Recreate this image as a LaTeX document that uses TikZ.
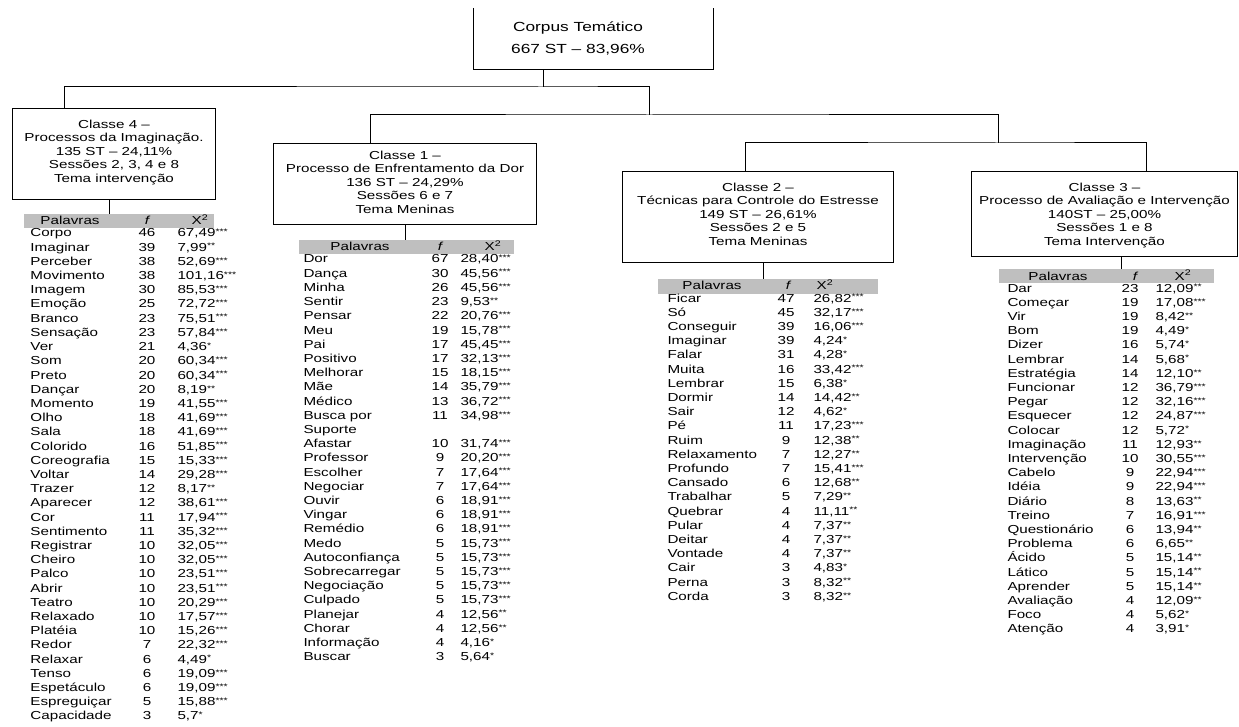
\documentclass[tikz,border=0pt]{standalone}
\usepackage{fontspec}
\setmainfont{Liberation Sans}[FakeStretch=1.31]
\usetikzlibrary{positioning}

\newcommand{\sigstars}[1]{\raisebox{2.2pt}{\fontsize{8}{8}\selectfont #1}}

\begin{document}
\begin{tikzpicture}[x=1pt,y=-1pt,line width=1pt,
    every node/.style={inner sep=0pt,font=\fontsize{11.6}{13.5}\selectfont},
    classbox/.style={draw,anchor=north west},
    boxtext/.style={align=center},
    headbar/.style={fill=black!25,anchor=north west,minimum height=14pt},
    cell/.style={anchor=base west},
    num/.style={anchor=base}]

        \useasboundingbox (0,0) rectangle (1239,727);

	\def \dy {14.2}

        % draw the corpus box (open at the top)
        \node[minimum width=239pt,minimum height=61pt,anchor=north west] (corpus) at (473,8) {};
        \draw (corpus.north west) -- (corpus.south west) -- (corpus.south east) -- (corpus.north east);
        \node[boxtext,anchor=north,font=\fontsize{13.2}{22}\selectfont] (corpust) at (578,21.5) {Corpus Temático\\667 ST – 83,96\%};

        % draw the class boxes
        \node[classbox,minimum width=203pt,minimum height=91pt] (c4) at (12,108) {};
        \node[classbox,minimum width=263pt,minimum height=81pt] (c1) at (273,143) {};
        \node[classbox,minimum width=271pt,minimum height=91pt] (c2) at (622,171) {};
        \node[classbox,minimum width=266pt,minimum height=85pt] (c3) at (971,171) {};

        \node[boxtext,below=11.5pt of c4.north] (c4t) {Classe 4 –\\Processos da Imaginação.\\135 ST – 24,11\%\\Sessões 2, 3, 4 e 8\\Tema intervenção};
        \node[boxtext,below=7.5pt of c1.north] (c1t) {Classe 1 –\\Processo de Enfrentamento da Dor\\136 ST – 24,29\%\\Sessões 6 e 7\\Tema Meninas};
        \node[boxtext,below=11.5pt of c2.north] (c2t) {Classe 2 –\\Técnicas para Controle do Estresse\\149 ST – 26,61\%\\Sessões 2 e 5\\Tema Meninas};
        \node[boxtext,below=11.5pt of c3.north] (c3t) {Classe 3 –\\Processo de Avaliação e Intervenção\\140ST – 25,00\%\\Sessões 1 e 8\\Tema Intervenção};

        % draw the tree
        \coordinate (j0) at (543,87);
        \coordinate (j1) at (649,115);
        \coordinate (j2) at (998,143);
        \coordinate (a4) at (64,108);
        \coordinate (a1) at (370,143);
        \coordinate (a2) at (745,171);
        \coordinate (a3) at (1146,171);

        \draw (corpus.south -| j0) -- (j0);
        \draw (a4) |- (j0) -| (j1);
        \draw (a1) |- (j1) -| (j2);
        \draw (a2) |- (j2) -| (a3);

        % draw the table heads
        \node[headbar,minimum width=190pt] (h4) at (23,214) {};
        \node[headbar,minimum width=215pt] (h1) at (298,240) {};
        \node[headbar,minimum width=220pt] (h2) at (657,279) {};
        \node[headbar,minimum width=215pt] (h3) at (998,269) {};

        \coordinate (k4) at (109,214);
        \coordinate (k1) at (405,240);
        \coordinate (k2) at (763,279);
        \coordinate (k3) at (1121,269);
        \draw (c4.south -| k4) -- (k4);
        \draw (c1.south -| k1) -- (k1);
        \draw (c2.south -| k2) -- (k2);
        \draw (c3.south -| k3) -- (k3);

        \node[num] (p4) at (70,225) {Palavras};
        \node[num] (f4) at (147,225) {\itshape f};
        \node[num] (x4) at (200,225) {X\textsuperscript{2}};
        \node[num] (p1) at (360,251) {Palavras};
        \node[num] (f1) at (440,251) {\itshape f};
        \node[num] (x1) at (493,251) {X\textsuperscript{2}};
        \node[num] (p2) at (712,290) {Palavras};
        \node[num] (f2) at (788,290) {\itshape f};
        \node[num] (x2) at (825,290) {X\textsuperscript{2}};
        \node[num] (p3) at (1058,280) {Palavras};
        \node[num] (f3) at (1135,280) {\itshape f};
        \node[num] (x3) at (1183,280) {X\textsuperscript{2}};

        % Classe 4 words
        \foreach \w/\f/\v/\s [count=\i from 0] in {Corpo/46/{67,49}/***, Imaginar/39/{7,99}/**,
          Perceber/38/{52,69}/***, Movimento/38/{101,16}/***, Imagem/30/{85,53}/***,
          Emoção/25/{72,72}/***, Branco/23/{75,51}/***, Sensação/23/{57,84}/***, Ver/21/{4,36}/*,
          Som/20/{60,34}/***, Preto/20/{60,34}/***, Dançar/20/{8,19}/**, Momento/19/{41,55}/***,
          Olho/18/{41,69}/***, Sala/18/{41,69}/***, Colorido/16/{51,85}/***, Coreografia/15/{15,33}/***,
          Voltar/14/{29,28}/***, Trazer/12/{8,17}/**, Aparecer/12/{38,61}/***, Cor/11/{17,94}/***,
          Sentimento/11/{35,32}/***, Registrar/10/{32,05}/***, Cheiro/10/{32,05}/***, Palco/10/{23,51}/***,
          Abrir/10/{23,51}/***, Teatro/10/{20,29}/***, Relaxado/10/{17,57}/***, Platéia/10/{15,26}/***,
          Redor/7/{22,32}/***, Relaxar/6/{4,49}/*, Tenso/6/{19,09}/***, Espetáculo/6/{19,09}/***,
          Espreguiçar/5/{15,88}/***, Capacidade/3/{5,7}/*}
        {
                \node[cell] (w4-\i) at (30,{237+\dy*\i}) {\w};
                \node[num] (n4-\i) at (147,{237+\dy*\i}) {\f};
                \node[cell] (v4-\i) at (177,{237+\dy*\i}) {\v\sigstars{\s}};
        }

        % Classe 1 words
        \foreach \w/\f/\v/\s [count=\i from 0] in {Dor/67/{28,40}/***, Dança/30/{45,56}/***,
          Minha/26/{45,56}/***, Sentir/23/{9,53}/**, Pensar/22/{20,76}/***, Meu/19/{15,78}/***,
          Pai/17/{45,45}/***, Positivo/17/{32,13}/***, Melhorar/15/{18,15}/***, Mãe/14/{35,79}/***,
          Médico/13/{36,72}/***, Busca por/11/{34,98}/***, Suporte/{}/{}/{}, Afastar/10/{31,74}/***,
          Professor/9/{20,20}/***, Escolher/7/{17,64}/***, Negociar/7/{17,64}/***, Ouvir/6/{18,91}/***,
          Vingar/6/{18,91}/***, Remédio/6/{18,91}/***, Medo/5/{15,73}/***, Autoconfiança/5/{15,73}/***,
          Sobrecarregar/5/{15,73}/***, Negociação/5/{15,73}/***, Culpado/5/{15,73}/***,
          Planejar/4/{12,56}/**, Chorar/4/{12,56}/**, Informação/4/{4,16}/*, Buscar/3/{5,64}/*}
        {
                \node[cell] (w1-\i) at (303,{263+\dy*\i}) {\w};
                \node[num] (n1-\i) at (440,{263+\dy*\i}) {\f};
                \node[cell] (v1-\i) at (460,{263+\dy*\i}) {\v\sigstars{\s}};
        }

        % Classe 2 words
        \foreach \w/\f/\v/\s [count=\i from 0] in {Ficar/47/{26,82}/***, Só/45/{32,17}/***,
          Conseguir/39/{16,06}/***, Imaginar/39/{4,24}/*, Falar/31/{4,28}/*, Muita/16/{33,42}/***,
          Lembrar/15/{6,38}/*, Dormir/14/{14,42}/**, Sair/12/{4,62}/*, Pé/11/{17,23}/***,
          Ruim/9/{12,38}/**, Relaxamento/7/{12,27}/**, Profundo/7/{15,41}/***, Cansado/6/{12,68}/**,
          Trabalhar/5/{7,29}/**, Quebrar/4/{11,11}/**, Pular/4/{7,37}/**, Deitar/4/{7,37}/**,
          Vontade/4/{7,37}/**, Cair/3/{4,83}/*, Perna/3/{8,32}/**, Corda/3/{8,32}/**}
        {
                \node[cell] (w2-\i) at (667,{302+\dy*\i}) {\w};
                \node[num] (n2-\i) at (786,{302+\dy*\i}) {\f};
                \node[cell] (v2-\i) at (813,{302+\dy*\i}) {\v\sigstars{\s}};
        }

        % Classe 3 words
        \foreach \w/\f/\v/\s [count=\i from 0] in {Dar/23/{12,09}/**, Começar/19/{17,08}/***,
          Vir/19/{8,42}/**, Bom/19/{4,49}/*, Dizer/16/{5,74}/*, Lembrar/14/{5,68}/*,
          Estratégia/14/{12,10}/**, Funcionar/12/{36,79}/***, Pegar/12/{32,16}/***,
          Esquecer/12/{24,87}/***, Colocar/12/{5,72}/*, Imaginação/11/{12,93}/**,
          Intervenção/10/{30,55}/***, Cabelo/9/{22,94}/***, Idéia/9/{22,94}/***, Diário/8/{13,63}/**,
          Treino/7/{16,91}/***, Questionário/6/{13,94}/**, Problema/6/{6,65}/**, Ácido/5/{15,14}/**,
          Lático/5/{15,14}/**, Aprender/5/{15,14}/**, Avaliação/4/{12,09}/**, Foco/4/{5,62}/*,
          Atenção/4/{3,91}/*}
        {
                \node[cell] (w3-\i) at (1007,{292+\dy*\i}) {\w};
                \node[num] (n3-\i) at (1130,{292+\dy*\i}) {\f};
                \node[cell] (v3-\i) at (1155,{292+\dy*\i}) {\v\sigstars{\s}};
        }

    \end{tikzpicture}
\end{document}
